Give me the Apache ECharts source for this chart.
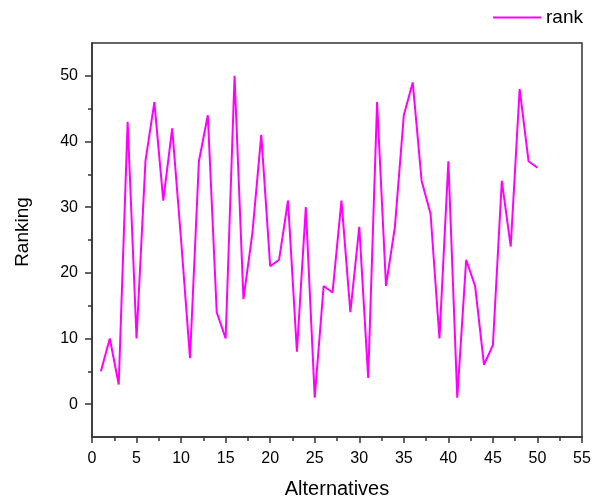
<!DOCTYPE html>
<html>
<head>
<meta charset="utf-8">
<script src="https://cdn.jsdelivr.net/npm/echarts@6/dist/echarts.min.js"></script>
<style>
html, body { margin: 0; padding: 0; background: #fff; }
#main { width: 592px; height: 503px; }
</style>
</head>
<body>
<div id="main"></div>
<script>
// rank of each alternative
var alternatives = [];
for (var i = 1; i <= 50; i++) alternatives.push(i);
var rank = [5, 10, 3, 43, 10, 37, 46, 31, 42, 25,
            7, 37, 44, 14, 10, 50, 16, 26, 41, 21,
            22, 31, 8, 30, 1, 18, 17, 31, 14, 27,
            4, 46, 18, 27, 44, 49, 34, 29, 10, 37,
            1, 22, 18, 6, 9, 34, 24, 48, 37, 36];
var yTicks = [0, 10, 20, 30, 40, 50];
var yMinorTicks = [5, 15, 25, 35, 45];

var font = 'Liberation Sans, Arial, sans-serif';
var axisColor = '#333';

var chart = echarts.init(document.getElementById('main'));
var option = {
    animation: false,
    backgroundColor: '#fff',
    legend: {
        right: 4,
        top: 3,
        icon: 'rect',
        itemWidth: 48,
        itemHeight: 2,
        itemGap: 4,
        textStyle: { fontFamily: font, fontSize: 19, color: '#000' },
        data: ['rank']
    },
    grid: {
        left: 92, right: 10, top: 43, bottom: 66,
        outerBoundsMode: 'none',
        containLabel: false,
        show: true,
        borderColor: axisColor,
        borderWidth: 1.5
    },
    xAxis: {
        type: 'value',
        min: 0, max: 55, interval: 5,
        name: 'Alternatives',
        nameLocation: 'middle',
        nameGap: 42,
        nameTextStyle: { fontFamily: font, fontSize: 20, color: '#000' },
        axisLine: { onZero: false, lineStyle: { color: axisColor, width: 1.5 } },
        axisTick: { length: 6, lineStyle: { color: axisColor, width: 1.5 } },
        minorTick: { show: true, splitNumber: 2, length: 4, lineStyle: { color: axisColor, width: 1.5 } },
        axisLabel: { fontFamily: font, fontSize: 16, color: '#000', margin: 14 },
        splitLine: { show: false }
    },
    yAxis: [{
        type: 'value',
        min: -5, max: 55,
        name: 'Ranking',
        nameLocation: 'middle',
        nameGap: 60,
        nameTextStyle: { fontFamily: font, fontSize: 19, color: '#000', padding: [0, 0, 0, 16] },
        axisLine: { show: true, onZero: false, lineStyle: { color: axisColor, width: 1.5 } },
        axisTick: { show: true, length: 7, customValues: yTicks, lineStyle: { color: axisColor, width: 1.5 } },
        axisLabel: { fontFamily: font, fontSize: 16, color: '#000', margin: 14, customValues: yTicks },
        splitLine: { show: false }
    }, {
        type: 'value',
        min: -5, max: 55,
        position: 'left',
        axisLine: { show: false, onZero: false },
        axisTick: { show: true, length: 4, customValues: yMinorTicks, lineStyle: { color: axisColor, width: 1.5 } },
        axisLabel: { show: false },
        splitLine: { show: false }
    }],
    series: [{
        name: 'rank',
        type: 'line',
        symbol: 'none',
        color: '#ff00ff',
        lineStyle: { width: 2, color: '#ff00ff' },
        data: alternatives.map(function (a, i) { return [a, rank[i]]; })
    }]
};
chart.setOption(option);
</script>
</body>
</html>
